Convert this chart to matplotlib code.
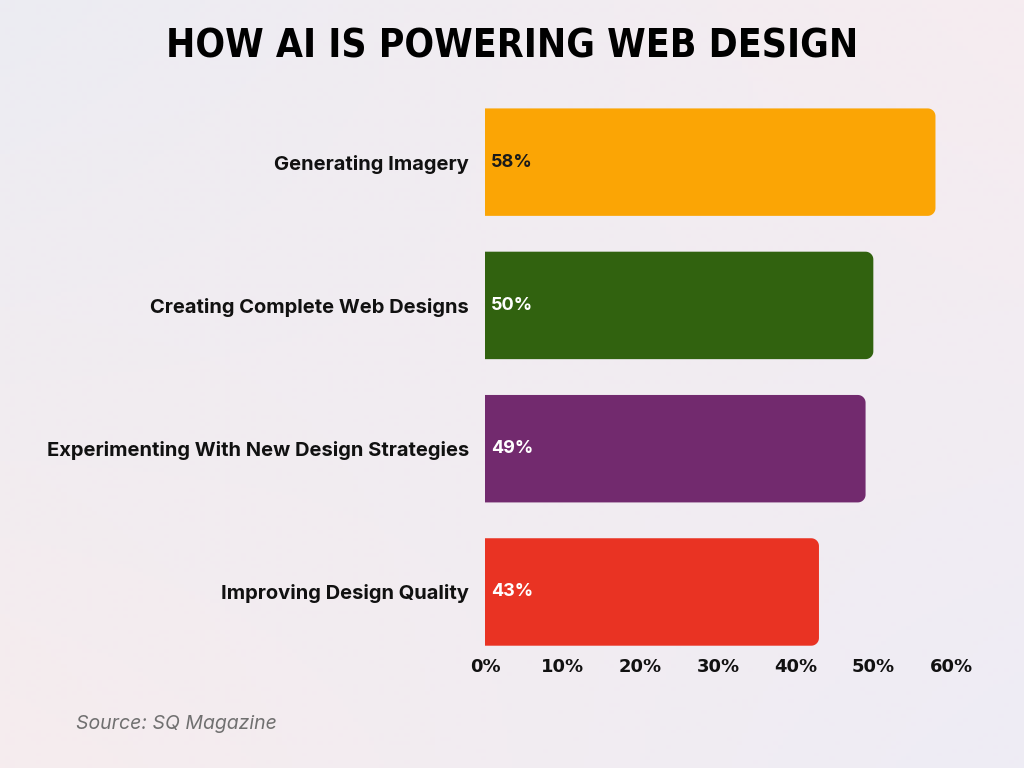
import numpy as np
import matplotlib
matplotlib.use("Agg")
import matplotlib.pyplot as plt
from matplotlib.patches import Polygon

# data
categories = ["Generating Imagery", "Creating Complete Web Designs",
              "Experimenting With New Design Strategies", "Improving Design Quality"]
values = [58, 50, 49, 43]
bar_colors = ["#FBA505", "#31620F", "#722A6E", "#E93323"]
label_colors = ["#1a1a1a", "white", "white", "white"]
ticks = [0, 10, 20, 30, 40, 50, 60]

fig = plt.figure(figsize=(10.24, 7.68), dpi=100)

# soft background gradient
bg = fig.add_axes([0, 0, 1, 1], zorder=-10)
xx, yy = np.meshgrid(np.linspace(0, 1, 200), np.linspace(0, 1, 200))
c_tl = np.array([236, 236, 243]) / 255
c_tr = np.array([246, 236, 240]) / 255
c_bl = np.array([246, 236, 238]) / 255
c_br = np.array([238, 236, 245]) / 255
img = (c_tl * ((1 - xx) * (1 - yy))[..., None] + c_tr * (xx * (1 - yy))[..., None]
       + c_bl * ((1 - xx) * yy)[..., None] + c_br * (xx * yy)[..., None])
bg.imshow(img, aspect="auto", extent=[0, 1, 0, 1], origin="upper")
bg.axis("off")

ax = fig.add_axes([485 / 1024, 118 / 768, 466 / 1024, 559.5 / 768])
ax.set_facecolor("none")

ypos = np.arange(len(categories))
bars = ax.barh(ypos, values, height=0.75, color=bar_colors, linewidth=0)

# swap each bar for a shape with rounded right corners
rx, ry = 1.0, 0.054
t = np.linspace(0, np.pi / 2, 12)
for b in bars:
    x0, y0, w, hh = b.get_x(), b.get_y(), b.get_width(), b.get_height()
    x1, y1 = x0 + w, y0 + hh
    pts = [(x0, y0), (x1 - rx, y0)]
    pts += [(x1 - rx + rx * np.sin(a), y0 + ry - ry * np.cos(a)) for a in t]
    pts += [(x1 - rx + rx * np.cos(a), y1 - ry + ry * np.sin(a)) for a in t]
    pts += [(x0, y1)]
    ax.add_patch(Polygon(pts, closed=True, facecolor=b.get_facecolor(),
                         edgecolor="none", lw=0))
    b.set_visible(False)

for y, v, tc in zip(ypos, values, label_colors):
    ax.text(0.8, y, "{}%".format(v), va="center", ha="left", color=tc,
            fontsize=13, fontweight="bold", family="Inter")

ax.set_xlim(0, 60)
ax.set_ylim(3.405, -0.5)
ax.set_xticks(ticks)
ax.set_xticklabels(["{}%".format(t) for t in ticks], fontsize=13,
                   fontweight="bold", family="DejaVu Sans", color="#111111")
ax.set_yticks(ypos)
ax.set_yticklabels(categories, fontsize=14.5, fontweight="bold",
                   family="Inter", color="#111111")
ax.tick_params(axis="y", length=0, pad=11.5)
ax.tick_params(axis="x", length=0, pad=6)
for s in ax.spines.values():
    s.set_visible(False)

fig.text(0.5, 1 - 46 / 768, "HOW AI IS POWERING WEB DESIGN", ha="center",
         va="center", fontsize=28, fontweight="bold", fontstretch="condensed",
         family="DejaVu Sans", color="black")
fig.text(76 / 1024, 1 - 724 / 768, "Source: SQ Magazine", ha="left",
         va="center", fontsize=14, style="italic", family="Inter",
         color="#707070")

fig.savefig("out.png", dpi=100)
